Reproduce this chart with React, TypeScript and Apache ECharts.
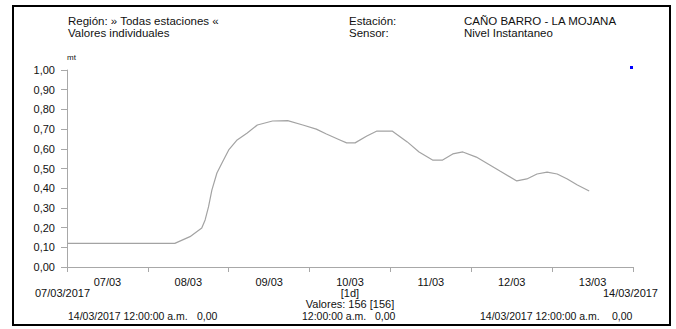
import React, { useEffect, useRef } from "react";
import * as echarts from "echarts";

// hours since 07/03/2017 00:00
const hours = [0, 32, 36.5, 40, 41, 42, 43, 44.5, 46, 48, 50.5, 53.5, 56.5, 61, 65.5, 70, 74, 77, 81, 83, 85.5, 89, 92, 96.5, 101, 104.5, 108.5, 111.5, 114.5, 117.5, 121.5, 125.5, 128.5, 133.5, 136.5, 139.5, 142.5, 145.5, 148.5, 151.5, 155];
const levels = [0.12, 0.12, 0.154, 0.198, 0.239, 0.305, 0.39, 0.477, 0.528, 0.594, 0.645, 0.68, 0.721, 0.741, 0.743, 0.721, 0.7, 0.675, 0.645, 0.63, 0.63, 0.665, 0.69, 0.69, 0.635, 0.584, 0.543, 0.543, 0.574, 0.584, 0.558, 0.518, 0.487, 0.437, 0.447, 0.472, 0.482, 0.472, 0.447, 0.416, 0.386];
const dayLabels = ["07/03", "08/03", "09/03", "10/03", "11/03", "12/03", "13/03"];

const FONT = '"Liberation Sans", Arial, sans-serif';

function txt(text: string, x: number, y: number, size: number, align: string = "left") {
  return {
    type: "text",
    style: {
      text,
      x,
      y,
      fill: "#111",
      font: `${size}px ${FONT}`,
      textAlign: align,
      textVerticalAlign: "middle",
      align,
      verticalAlign: "middle",
    },
    silent: true,
  };
}

export default function App() {
  const ref = useRef<HTMLDivElement>(null);
  useEffect(() => {
    if (!ref.current) return;
    const chart = echarts.init(ref.current, undefined, { renderer: "svg" });
    const data = hours.map((h, i) => [h, levels[i]]);
    chart.setOption({
      animation: false,
      textStyle: { fontFamily: FONT },
      grid: { left: 67, right: 43, top: 70, bottom: 62 },
      xAxis: [
        {
          type: "value",
          min: 0,
          max: 168,
          interval: 24,
          position: "bottom",
          axisLine: { show: true, lineStyle: { color: "#a8a8a8", width: 1 } },
          axisTick: { show: true, length: 5, lineStyle: { color: "#a8a8a8" } },
          axisLabel: { show: false },
          splitLine: { show: false },
        },
        {
          type: "category",
          data: dayLabels,
          position: "bottom",
          boundaryGap: true,
          axisLine: { show: false },
          axisTick: { show: false },
          axisLabel: { show: true, color: "#111", fontSize: 11, fontFamily: FONT, margin: 9 },
          splitLine: { show: false },
        },
      ],
      yAxis: {
        type: "value",
        min: 0,
        max: 1,
        interval: 0.1,
        axisLine: { show: true, lineStyle: { color: "#a8a8a8", width: 1 } },
        axisTick: { show: true, length: 6, lineStyle: { color: "#a8a8a8" } },
        axisLabel: {
          color: "#111",
          fontSize: 11,
          fontFamily: FONT,
          margin: 12,
          formatter: (v: number) => v.toFixed(2).replace(".", ","),
        },
        splitLine: { show: false },
      },
      series: [
        {
          type: "line",
          xAxisIndex: 0,
          data,
          showSymbol: false,
          symbol: "none",
          lineStyle: { color: "#a3a3a3", width: 1.2 },
          silent: true,
        },
      ],
      graphic: [
        {
          type: "rect",
          shape: { x: 13, y: 6, width: 657, height: 319 },
          style: { fill: "none", stroke: "#000", lineWidth: 2 },
          silent: true,
        },
        {
          type: "rect",
          shape: { x: 630, y: 66, width: 3, height: 3 },
          style: { fill: "#0000ff" },
          silent: true,
        },
        txt("Región: » Todas estaciones «", 68, 20.5, 11.5),
        txt("Valores individuales", 68, 32.5, 11.5),
        txt("Estación:", 349, 20.5, 11.5),
        txt("Sensor:", 349, 32.5, 11.5),
        txt("CAÑO BARRO - LA MOJANA", 464, 20.5, 11.5),
        txt("Nivel Instantaneo", 464, 32.5, 11.5),
        txt("mt", 67, 57, 8),
        txt("07/03/2017", 35, 293, 11),
        txt("14/03/2017", 658, 293, 11, "right"),
        txt("[1d]", 350, 293, 11, "center"),
        txt("Valores: 156 [156]", 350, 304, 11, "center"),
        txt("14/03/2017 12:00:00 a.m.", 68, 316, 10.5),
        txt("0,00", 197, 316, 10.5),
        txt("12:00:00 a.m.", 302, 316, 10.5),
        txt("0,00", 375, 316, 10.5),
        txt("14/03/2017 12:00:00 a.m.", 480, 316, 10.5),
        txt("0,00", 612, 316, 10.5),
      ],
    });
    return () => chart.dispose();
  }, []);
  return (
    <div
      ref={ref}
      style={{ position: "fixed", left: 0, top: 0, width: 676, height: 329, background: "#fff" }}
    />
  );
}
